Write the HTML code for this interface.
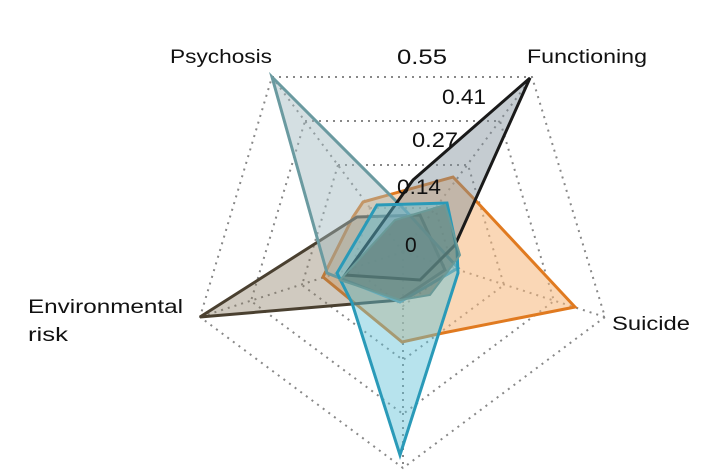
<!DOCTYPE html>
<html><head><style>
html,body{margin:0;padding:0;background:#fff;width:719px;height:474px;overflow:hidden}
svg text{font-family:"Liberation Sans",sans-serif;fill:#111}
</style></head><body>
<svg width="719" height="474" viewBox="0 0 719 474">
<g fill="none" stroke="#888" stroke-width="2" stroke-dasharray="2 5">
<polygon points="272,77 532,77 605,317 403,468 200,317"/>
<polygon points="305,121 500,121 554,301 403,414 251,301"/>
<polygon points="338,165 468,165 504,285 403,360 302,285"/>
<polygon points="370,208 435,208 453,268 403,306 352,268"/>
<line x1="403" y1="252" x2="272" y2="77"/><line x1="403" y1="252" x2="532" y2="77"/>
<line x1="403" y1="252" x2="605" y2="317"/><line x1="403" y1="252" x2="403" y2="468"/>
<line x1="403" y1="252" x2="200" y2="317"/>
</g>
<g stroke-width="3" stroke-linejoin="miter">
<polygon points="363,202 453,177 477,202 575,307 443,333 402,342 323,277 353,217" fill="#f5b77a" fill-opacity="0.55" stroke="#e07a20"/>
<polygon points="200,317 400,300 445,270 420,215 357,217" fill="#8a7a62" fill-opacity="0.4" stroke="#4a4030"/>
<polygon points="272,77 405,210 458,268 400,302 327,273" fill="#9fb7bf" fill-opacity="0.45" stroke="#6a9aa0"/>
<polygon points="530,78 455,245 420,280 345,275 413,180" fill="#7f8f98" fill-opacity="0.45" stroke="#1a1a1a"/>
<polygon points="400,455 458,273 457,250 447,203 377,205 337,273 352,303" fill="#5fc0d8" fill-opacity="0.45" stroke="#2a9ab8"/>
<polygon points="340,280 395,220 445,205 460,255 430,295 400,300" fill="#5f7a70" fill-opacity="0.6" stroke="#6a9a98" stroke-width="2"/>
</g>
<g font-size="19">
<text x="170" y="63" textLength="102" lengthAdjust="spacingAndGlyphs">Psychosis</text>
<text x="527" y="63" textLength="120" lengthAdjust="spacingAndGlyphs">Functioning</text>
<text x="28" y="313" textLength="155" lengthAdjust="spacingAndGlyphs">Environmental</text>
<text x="28" y="341" textLength="40" lengthAdjust="spacingAndGlyphs">risk</text>
<text x="612" y="330" textLength="78" lengthAdjust="spacingAndGlyphs">Suicide</text>
</g>
<g font-size="21">
<text x="397" y="64" textLength="50" lengthAdjust="spacingAndGlyphs">0.55</text>
<text x="442" y="104" textLength="44" lengthAdjust="spacingAndGlyphs">0.41</text>
<text x="412" y="147" textLength="46" lengthAdjust="spacingAndGlyphs">0.27</text>
<text x="397" y="194" textLength="44" lengthAdjust="spacingAndGlyphs">0.14</text>
<text x="405" y="252">0</text>
</g>
</svg>
</body></html>
